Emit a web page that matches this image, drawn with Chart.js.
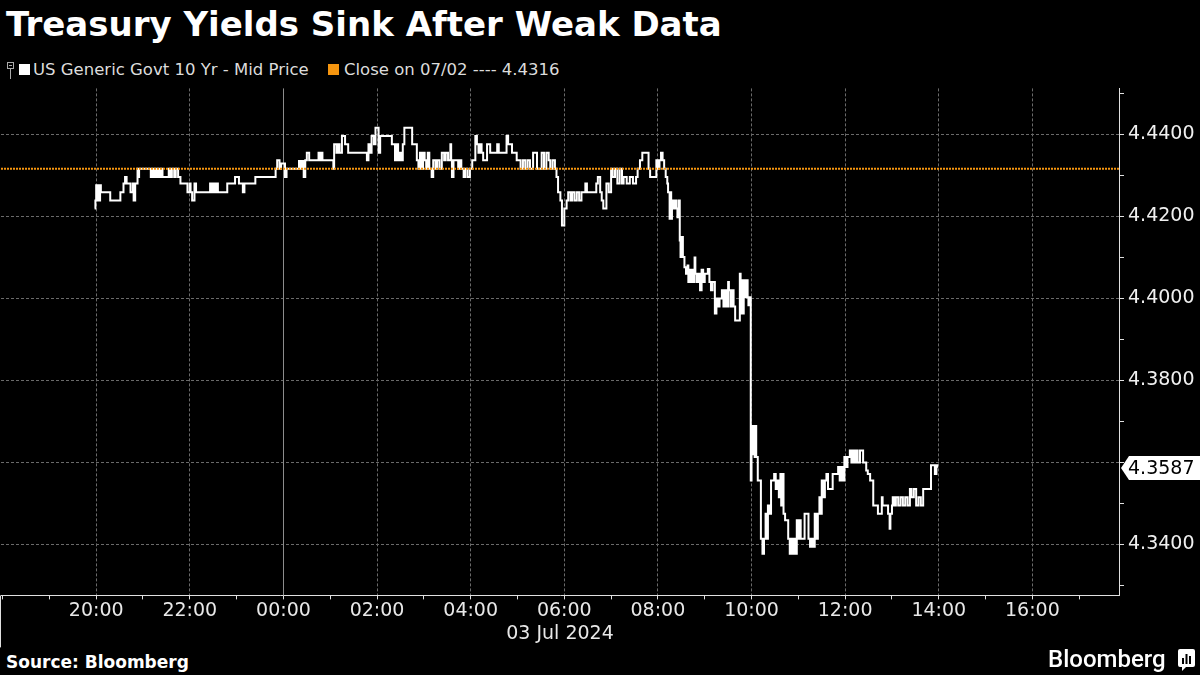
<!DOCTYPE html>
<html>
<head>
<meta charset="utf-8">
<title>Treasury Yields Sink After Weak Data</title>
<script src="https://cdn.jsdelivr.net/npm/chart.js@4.4.1/dist/chart.umd.min.js"></script>
<style>
  html, body { margin: 0; padding: 0; background: #000; }
  body { width: 1200px; height: 675px; position: relative; overflow: hidden;
         font-family: 'DejaVu Sans', sans-serif; color: #fff; }
  #title { position: absolute; left: 6px; top: 4px; font-size: 34px; font-weight: bold; line-height: 40px; white-space: nowrap; }
  .leg { position: absolute; top: 60px; font-size: 16.5px; line-height: 20px; color: #dcdcdc; white-space: nowrap; }
  .sw { position: absolute; top: 64px; width: 11px; height: 11px; }
  #wrap { position: absolute; left: 0; top: 80px; width: 1200px; height: 570px; }
  #source { position: absolute; left: 6px; top: 652px; font-size: 17px; font-weight: bold; line-height: 20px; }
  #brand { position: absolute; left: 1048px; top: 645px; font-family: Roboto, sans-serif; font-weight: 500; font-size: 24px; line-height: 28px; }
  #brand-icon { position: absolute; left: 1177px; top: 648px; }
</style>
</head>
<body>
<div id="title">Treasury Yields Sink After Weak Data</div>

<svg style="position:absolute;left:7px;top:60px" width="9" height="20">
  <rect x="0.5" y="2.5" width="6" height="6" fill="none" stroke="#aaa"/>
  <line x1="2" y1="5.5" x2="5" y2="5.5" stroke="#aaa"/>
  <line x1="3.5" y1="9" x2="3.5" y2="19" stroke="#aaa"/>
</svg>
<div class="sw" style="left:19px;background:#fff"></div>
<div class="leg" id="leg1" style="left:33px"></div>
<div class="sw" style="left:328px;background:#f5950f"></div>
<div class="leg" id="leg2" style="left:344px"></div>

<div id="wrap"><canvas id="chart"></canvas></div>

<div id="source">Source: Bloomberg</div>
<div id="brand">Bloomberg</div>
<svg id="brand-icon" width="19" height="24" viewBox="0 0 19 24">
  <path d="M3 1h13a2 2 0 0 1 2 2v14a2 2 0 0 1-2 2H9l-4 4v-4H3a2 2 0 0 1-2-2V3a2 2 0 0 1 2-2z" fill="#fff"/>
  <rect x="5" y="10" width="2" height="6" fill="#000"/>
  <rect x="8.5" y="6" width="2" height="10" fill="#000"/>
  <rect x="12" y="8" width="2" height="8" fill="#000"/>
</svg>

<script>
// ——— DATA ———
const seriesLabel = 'US Generic Govt 10 Yr - Mid Price';
const closeLabel = 'Close on 07/02';
const prevClose = 4.4316;
const dateLabel = '03 Jul 2024';

// trade times (02 Jul evening -> 03 Jul), mid yield
const times = [
  '19:58','19:59','20:00','20:01','20:02','20:04','20:05','20:06','20:18','20:31',
  '20:35','20:37','20:39','20:44','20:47','20:48','20:50','20:53','20:54','20:55',
  '21:10','21:11','21:12','21:13','21:15','21:17','21:19','21:20','21:22','21:24',
  '21:25','21:33','21:35','21:37','21:40','21:42','21:45','21:48','21:57','22:00',
  '22:01','22:03','22:06','22:08','22:26','22:28','22:30','22:32','22:34','22:36',
  '22:48','22:58','23:03','23:08','23:10','23:24','23:50','23:52','23:55','23:57',
  '00:02','00:04','00:20','00:22','00:24','00:26','00:28','00:30','00:33','00:45',
  '00:47','00:49','00:50','01:04','01:05','01:08','01:10','01:12','01:15','01:19',
  '01:23','01:47','01:49','01:51','01:53','01:56','01:58','02:02','02:04','02:19',
  '02:23','02:25','02:27','02:29','02:31','02:33','02:35','02:45','02:51','02:53',
  '02:55','02:57','02:59','03:01','03:03','03:05','03:07','03:10','03:12','03:15',
  '03:17','03:20','03:23','03:26','03:28','03:31','03:34','03:35','03:36','03:38',
  '03:44','03:46','03:48','03:51','03:53','03:56','03:59','04:02','04:06','04:08',
  '04:10','04:12','04:14','04:16','04:21','04:25','04:34','04:36','04:46','04:48',
  '04:53','04:59','05:04','05:07','05:10','05:13','05:16','05:20','05:25','05:31',
  '05:34','05:37','05:40','05:42','05:45','05:48','05:50','05:52','05:55','05:57',
  '06:00','06:03','06:05','06:08','06:10','06:13','06:16','06:19','06:22','06:27',
  '06:29','06:41','06:43','06:46','06:48','06:50','06:54','06:57','07:00','07:02',
  '07:05','07:08','07:11','07:14','07:16','07:20','07:24','07:28','07:32','07:34',
  '07:37','07:40','07:48','07:50','07:58','08:00','08:02','08:04','08:06','08:08',
  '08:10','08:12','08:13','08:15','08:16','08:17','08:18','08:20','08:22','08:24',
  '08:25','08:27','08:28','08:29','08:30','08:32','08:34','08:36','08:38','08:39',
  '08:41','08:42','08:44','08:45','08:47','08:48','08:50','08:52','08:54','08:56',
  '08:58','09:00','09:04','09:06','09:08','09:10','09:13','09:15','09:17','09:19',
  '09:22','09:24','09:26','09:28','09:30','09:31','09:33','09:35','09:37','09:39',
  '09:45','09:46','09:47','09:49','09:50','09:52','09:53','09:55','09:56','09:58',
  '09:59','10:00','10:01','10:02','10:03','10:04','10:05','10:06','10:08','10:12',
  '10:14','10:16','10:18','10:19','10:21','10:23','10:25','10:29','10:31','10:33',
  '10:35','10:37','10:38','10:40','10:41','10:43','10:47','10:49','10:51','10:53',
  '10:55','10:57','10:58','11:00','11:02','11:03','11:08','11:13','11:15','11:17',
  '11:19','11:21','11:23','11:25','11:27','11:28','11:30','11:32','11:34','11:36',
  '11:38','11:44','11:51','11:53','11:55','11:57','11:59','12:01','12:03','12:06',
  '12:08','12:10','12:12','12:14','12:16','12:19','12:23','12:27','12:29','12:32',
  '12:36','12:42','12:47','12:48','12:55','12:57','12:58','13:00','13:01','13:03',
  '13:05','13:08','13:11','13:14','13:17','13:20','13:23','13:25','13:28','13:31',
  '13:34','13:37','13:40','13:50','13:55','13:57','13:58'
];
const yields = [
  4.4219,4.4239,4.4276,4.4239,4.4276,4.4239,4.4276,4.4259,4.4239,4.4259,
  4.4280,4.4296,4.4280,4.4259,4.4280,4.4239,4.4280,4.4316,4.4296,4.4316,
  4.4296,4.4316,4.4296,4.4316,4.4296,4.4316,4.4296,4.4316,4.4296,4.4316,
  4.4296,4.4316,4.4296,4.4316,4.4296,4.4316,4.4296,4.4280,4.4259,4.4280,
  4.4259,4.4239,4.4280,4.4259,4.4280,4.4259,4.4280,4.4259,4.4280,4.4259,
  4.4280,4.4296,4.4280,4.4259,4.4280,4.4296,4.4316,4.4337,4.4316,4.4329,
  4.4296,4.4316,4.4335,4.4316,4.4335,4.4296,4.4337,4.4355,4.4337,4.4355,
  4.4337,4.4355,4.4337,4.4316,4.4376,4.4355,4.4376,4.4355,4.4396,4.4376,
  4.4355,4.4337,4.4376,4.4355,4.4396,4.4376,4.4416,4.4355,4.4396,4.4376,
  4.4337,4.4376,4.4337,4.4355,4.4337,4.4376,4.4416,4.4376,4.4337,4.4316,
  4.4355,4.4316,4.4355,4.4337,4.4316,4.4355,4.4316,4.4296,4.4337,4.4316,
  4.4337,4.4316,4.4355,4.4337,4.4355,4.4337,4.4376,4.4337,4.4296,4.4337,
  4.4316,4.4337,4.4316,4.4296,4.4316,4.4296,4.4316,4.4337,4.4396,4.4376,
  4.4355,4.4376,4.4355,4.4337,4.4376,4.4355,4.4376,4.4355,4.4396,4.4376,
  4.4355,4.4337,4.4316,4.4337,4.4316,4.4337,4.4316,4.4355,4.4316,4.4355,
  4.4316,4.4355,4.4337,4.4316,4.4337,4.4316,4.4296,4.4259,4.4239,4.4178,
  4.4219,4.4239,4.4259,4.4239,4.4259,4.4239,4.4259,4.4239,4.4259,4.4280,
  4.4259,4.4280,4.4296,4.4259,4.4239,4.4219,4.4280,4.4259,4.4316,4.4296,
  4.4316,4.4280,4.4316,4.4280,4.4296,4.4280,4.4296,4.4280,4.4296,4.4316,
  4.4337,4.4355,4.4316,4.4296,4.4337,4.4316,4.4337,4.4355,4.4337,4.4316,
  4.4296,4.4280,4.4259,4.4194,4.4259,4.4194,4.4239,4.4219,4.4239,4.4219,
  4.4198,4.4239,4.4141,4.4101,4.4150,4.4101,4.4076,4.4060,4.4080,4.4040,
  4.4070,4.4040,4.4070,4.4040,4.4100,4.4060,4.4040,4.4060,4.4020,4.4070,
  4.4040,4.4060,4.4072,4.4040,4.4020,4.4040,4.3963,4.4000,4.3980,4.4000,
  4.4020,4.3980,4.4020,4.3980,4.4040,4.4020,4.3980,4.4020,4.3980,4.3946,
  4.4060,4.3963,4.4044,4.3963,4.4044,4.4003,4.4044,4.4003,4.3983,4.4003,
  4.3556,4.3650,4.3689,4.3620,4.3689,4.3613,4.3689,4.3613,4.3556,4.3414,
  4.3377,4.3414,4.3475,4.3414,4.3495,4.3475,4.3556,4.3572,4.3535,4.3556,
  4.3515,4.3572,4.3495,4.3572,4.3475,4.3459,4.3414,4.3377,4.3414,4.3377,
  4.3414,4.3377,4.3459,4.3414,4.3459,4.3414,4.3475,4.3414,4.3394,4.3414,
  4.3394,4.3475,4.3414,4.3475,4.3515,4.3475,4.3556,4.3515,4.3556,4.3572,
  4.3535,4.3572,4.3589,4.3556,4.3589,4.3556,4.3613,4.3589,4.3613,4.3629,
  4.3600,4.3629,4.3600,4.3629,4.3600,4.3629,4.3600,4.3580,4.3572,4.3556,
  4.3495,4.3475,4.3515,4.3495,4.3475,4.3438,4.3475,4.3495,4.3515,4.3495,
  4.3515,4.3495,4.3515,4.3495,4.3515,4.3495,4.3535,4.3515,4.3535,4.3495,
  4.3515,4.3495,4.3535,4.3593,4.3572,4.3593,4.3587
];

// axis window, minutes from 00:00 on 03 Jul
const xMin = -362, xMax = 1071;
const yMin = 4.32756, yMax = 4.45122;

// ——— HELPERS ———
const GRID = '#6a6a6a';
const AXIS = '#e0e0e0';
const FONT = "'DejaVu Sans', sans-serif";
const PLOT_TOP = 88, PLOT_BOTTOM = 595;

function toMinutes(t) {
  const [h, m] = t.split(':').map(Number);
  return (h >= 18 ? h - 24 : h) * 60 + m;
}

function fmtHour(v) {
  const h = ((Math.round(v / 60) % 24) + 24) % 24;
  return String(h).padStart(2, '0') + ':00';
}

const lastYield = yields[yields.length - 1];
document.getElementById('leg1').textContent = seriesLabel;
document.getElementById('leg2').textContent = closeLabel + ' ---- ' + prevClose.toFixed(4);

// ——— DECOR: midnight line, date band edge, last price tag ———
const decor = {
  id: 'decor',
  beforeDatasetsDraw(chart) {
    const { ctx, chartArea: a, scales: { x } } = chart;
    const mx = Math.round(x.getPixelForValue(0)) + 0.5;
    ctx.save();
    ctx.strokeStyle = '#8c8c8c';
    ctx.lineWidth = 1;
    ctx.beginPath(); ctx.moveTo(mx, a.top); ctx.lineTo(mx, a.bottom); ctx.stroke();
    ctx.restore();
  },
  afterDraw(chart) {
    const { ctx, chartArea: a, scales: { y } } = chart;
    ctx.save();
    ctx.strokeStyle = AXIS;
    ctx.lineWidth = 1;
    ctx.beginPath(); ctx.moveTo(0.5, a.bottom); ctx.lineTo(0.5, a.bottom + 52); ctx.stroke();

    const py = Math.round(y.getPixelForValue(lastYield));
    const x0 = a.right + 2;
    ctx.fillStyle = '#fff';
    ctx.beginPath();
    ctx.moveTo(x0, py);
    ctx.lineTo(x0 + 8, py - 12);
    ctx.lineTo(chart.width, py - 12);
    ctx.lineTo(chart.width, py + 12);
    ctx.lineTo(x0 + 8, py + 12);
    ctx.closePath();
    ctx.fill();
    ctx.fillStyle = '#000';
    ctx.font = '19px ' + FONT;
    ctx.textAlign = 'left';
    ctx.textBaseline = 'middle';
    ctx.fillText(lastYield.toFixed(4), x0 + 7, py + 1);
    ctx.restore();
  }
};

// ——— CHART ———
Chart.defaults.font.family = FONT;

const chart = new Chart(document.getElementById('chart'), {
  type: 'line',
  data: {
    datasets: [
      {
        label: closeLabel,
        data: [{ x: xMin, y: prevClose }, { x: xMax, y: prevClose }],
        borderColor: '#f5950f',
        borderWidth: 2,
        borderDash: [2, 1],
        pointRadius: 0,
        order: 0
      },
      {
        label: seriesLabel,
        data: times.map((t, i) => ({ x: toMinutes(t), y: yields[i] })),
        borderColor: '#ffffff',
        borderWidth: 2,
        stepped: true,
        pointRadius: 0,
        order: 1
      }
    ]
  },
  options: {
    responsive: true,
    maintainAspectRatio: false,
    animation: false,
    layout: { padding: { top: 8, left: 0, right: 0, bottom: 0 } },
    plugins: { legend: { display: false }, tooltip: { enabled: false } },
    scales: {
      x: {
        type: 'linear',
        min: xMin,
        max: xMax,
        afterFit: s => { s.height = 55; },
        ticks: {
          stepSize: 60,
          includeBounds: false,
          autoSkip: false,
          maxRotation: 0,
          padding: 0,
          color: '#e8e8e8',
          font: { size: 19 },
          callback: v => {
            const h = Math.round(v / 60);
            return (h % 2 === 0 && h !== -6) ? fmtHour(v) : '';
          }
        },
        grid: {
          color: c => {
            if (!c.tick) return 'rgba(0,0,0,0)';
            const h = Math.round(c.tick.value / 60);
            return (h % 2 === 0 && h !== 0 && h !== -6) ? GRID : 'rgba(0,0,0,0)';
          },
          tickColor: AXIS,
          tickLength: 4,
          lineWidth: 1
        },
        border: { color: AXIS, width: 1, dash: [3, 2] },
        title: {
          display: true,
          text: dateLabel,
          color: '#e8e8e8',
          font: { size: 19 },
          padding: { top: 0, bottom: 4.6 }
        }
      },
      y: {
        position: 'right',
        min: yMin,
        max: yMax,
        afterFit: s => { s.width = 81; },
        ticks: {
          stepSize: 0.01,
          includeBounds: false,
          padding: 4,
          color: '#f0f0f0',
          font: { size: 19 },
          callback: v => {
            const k = Math.round(v * 100);
            return (k % 2 === 0 && k !== 436) ? v.toFixed(4) : '';
          }
        },
        grid: {
          color: c => {
            if (!c.tick) return 'rgba(0,0,0,0)';
            return Math.round(c.tick.value * 100) % 2 === 0 ? GRID : 'rgba(0,0,0,0)';
          },
          tickColor: AXIS,
          tickLength: 5,
          lineWidth: 1
        },
        border: { color: AXIS, width: 1, dash: [3, 2] }
      }
    }
  },
  plugins: [decor]
});

// pin the plot area to the reference frame
(function placeChart() {
  const wrap = document.getElementById('wrap');
  const a = chart.chartArea;
  const topPad = a.top, botPad = chart.height - a.bottom;
  const top = PLOT_TOP - topPad;
  const height = PLOT_BOTTOM + botPad - top;
  wrap.style.top = top + 'px';
  wrap.style.height = height + 'px';
  chart.resize();
})();
</script>
</body>
</html>
